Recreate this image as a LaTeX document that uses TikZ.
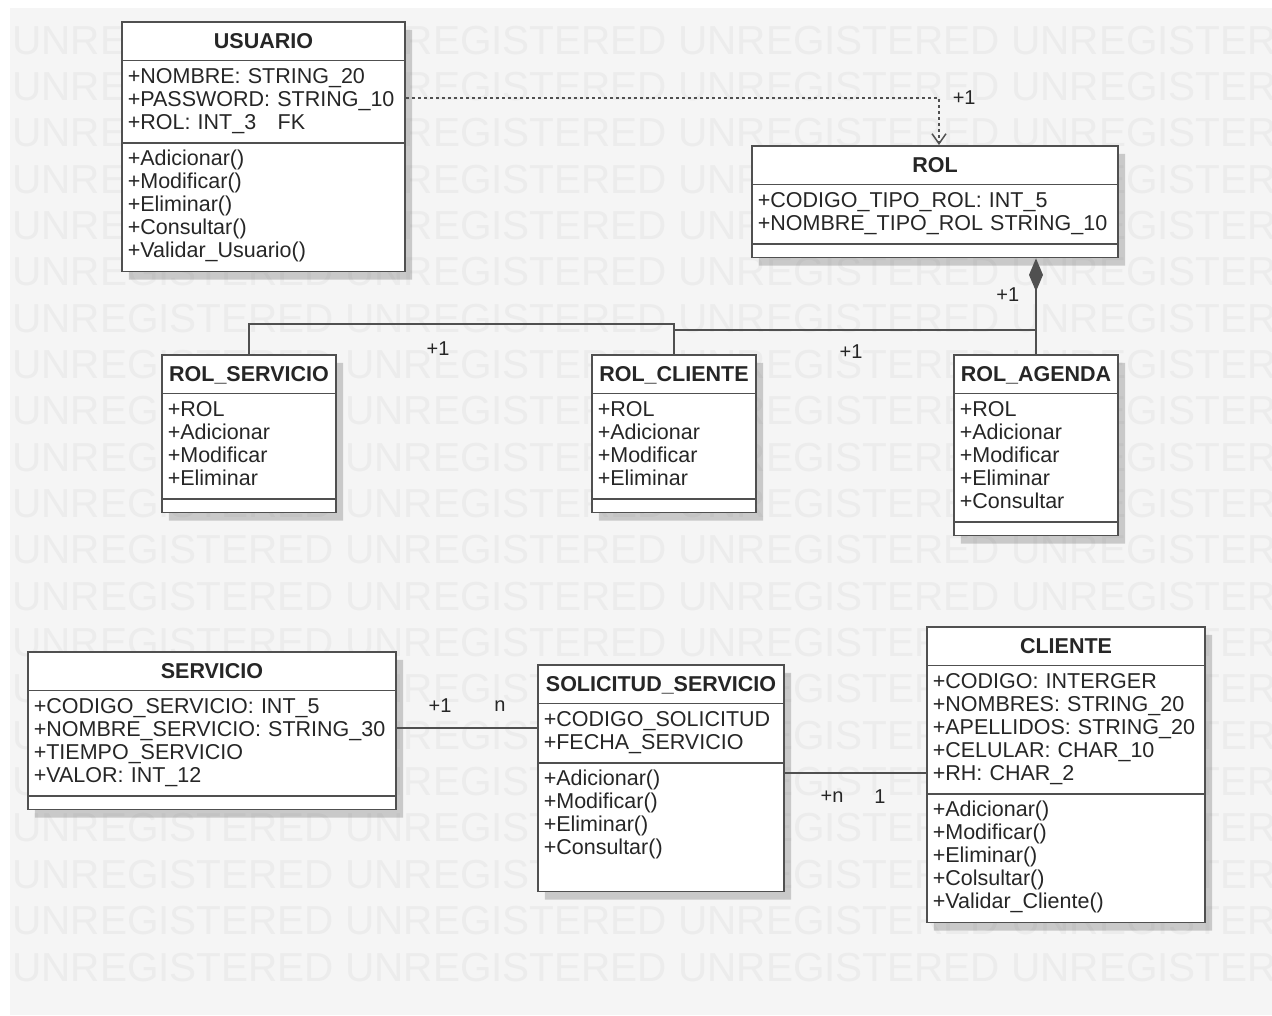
\documentclass[tikz,border=0pt]{standalone}
\usepackage{fontspec}
\setmainfont{Liberation Sans}
\usetikzlibrary{shapes.multipart,shadows,arrows.meta}

\definecolor{fondo}{RGB}{245,245,245}
\definecolor{marca}{RGB}{236,236,236}
\definecolor{borde}{RGB}{80,80,80}

\newcommand{\filas}[1]{\strut#1\strut}
\newcommand{\titulo}[1]{\rule[-5pt]{0pt}{25pt}\makebox[\hsize][c]{\textbf{#1}}}

\tikzset{every picture/.style={line width=0.75pt},
  clase/.style={rectangle split, rectangle split parts=3, anchor=north west,
    draw=borde, line width=1.6pt, fill=white, align=left,
    inner xsep=6pt, inner ysep=6pt, text=black!85,
    font=\fontsize{21.5}{23}\selectfont,
    drop shadow={shadow xshift=7pt, shadow yshift=-8pt, fill=black!60, opacity=0.3}},
  enlace/.style={draw=borde, line width=1.5pt},
  mult/.style={inner sep=0pt, text=black!85, font=\fontsize{20}{22}\selectfont},
  marcaagua/.style={inner sep=0pt, anchor=base west, text=marca,
    font=\fontsize{40.5}{44}\selectfont}}

\begin{document}
\begin{tikzpicture}[x=1pt,y=-1pt]
    \useasboundingbox (0,0) rectangle (1272,1015);
    \fill[white] (0,0) rectangle (1272,1015);
    \fill[fondo] (10,8) rectangle (1272,1015);
    \begin{scope}
        \clip (10,8) rectangle (1272,1015);
        \foreach \k in {0,...,20}
            \node[marcaagua] (wm\k) at (12,54+46.35*\k) {UNREGISTERED UNREGISTERED UNREGISTERED UNREGISTERED};
    \end{scope}

    \node[clase, text width=271.4pt] (usuario) at (121,21)
        {\titulo{USUARIO}
         \nodepart{two}\filas{+NOMBRE: STRING\_20\\+PASSWORD: STRING\_10\\+ROL: INT\_3\ \ \ FK}
         \nodepart{three}\filas{+Adicionar()\\+Modificar()\\+Eliminar()\\+Consultar()\\+Validar\_Usuario()}};
    \node[clase, text width=354.4pt] (rol) at (751,145)
        {\titulo{ROL}
         \nodepart{two}\filas{+CODIGO\_TIPO\_ROL: INT\_5\\+NOMBRE\_TIPO\_ROL STRING\_10}
         \nodepart{three}};
    \node[clase, text width=162.4pt] (rolservicio) at (161,354)
        {\titulo{ROL\_SERVICIO}
         \nodepart{two}\filas{+ROL\\+Adicionar\\+Modificar\\+Eliminar}
         \nodepart{three}};
    \node[clase, text width=152.4pt] (rolcliente) at (591,354)
        {\titulo{ROL\_CLIENTE}
         \nodepart{two}\filas{+ROL\\+Adicionar\\+Modificar\\+Eliminar}
         \nodepart{three}};
    \node[clase, text width=152.4pt] (rolagenda) at (953,354)
        {\titulo{ROL\_AGENDA}
         \nodepart{two}\filas{+ROL\\+Adicionar\\+Modificar\\+Eliminar\\+Consultar}
         \nodepart{three}};
    \node[clase, text width=356.4pt] (servicio) at (27,651)
        {\titulo{SERVICIO}
         \nodepart{two}\filas{+CODIGO\_SERVICIO: INT\_5\\+NOMBRE\_SERVICIO: STRING\_30\\+TIEMPO\_SERVICIO\\+VALOR: INT\_12}
         \nodepart{three}};
    \node[clase, text width=234.4pt] (solicitud) at (537,664)
        {\titulo{SOLICITUD\_SERVICIO}
         \nodepart{two}\filas{+CODIGO\_SOLICITUD\\+FECHA\_SERVICIO}
         \nodepart{three}\filas{+Adicionar()\\+Modificar()\\+Eliminar()\\+Consultar()\\}};
    \node[clase, text width=266.4pt] (cliente) at (926,626)
        {\titulo{CLIENTE}
         \nodepart{two}\filas{+CODIGO: INTERGER\\+NOMBRES: STRING\_20\\+APELLIDOS: STRING\_20\\+CELULAR: CHAR\_10\\+RH: CHAR\_2}
         \nodepart{three}\filas{+Adicionar()\\+Modificar()\\+Eliminar()\\+Colsultar()\\+Validar\_Cliente()}};

    \draw[enlace, dash pattern=on 3pt off 3pt, -{Straight Barb[length=10pt,width=14pt]}]
        ([yshift=-77pt]usuario.north east) -| ([xshift=4pt]rol.north)
        node[mult, pos=0.5, anchor=west, xshift=13pt] {+1};
    \draw[enlace, {Diamond[length=33pt,width=14pt]}-] (rol.south -| rolagenda.north) -- (rolagenda.north)
        node[mult, pos=0.38, anchor=east, xshift=-16pt] {+1};
    \draw[enlace] (rolservicio.north) -- ++(0,-30) -| (rolcliente.north);
    \coordinate (union) at ([yshift=24pt]rolcliente.north);
    \draw[enlace] (union) -- (union -| rolagenda.north);
    \node[mult] (m1) at (438,349) {+1};
    \node[mult] (m2) at (851,352) {+1};

    \draw[enlace] ([yshift=-77pt]servicio.north east) -- ([yshift=-64pt]solicitud.north west);
    \node[mult] (m3) at (440,706) {+1};
    \node[mult] (m4) at (500,706) {n};
    \draw[enlace] ([yshift=-109pt]solicitud.north east) -- ([yshift=-147pt]cliente.north west);
    \node[mult] (m5) at (832,797) {+n};
    \node[mult] (m6) at (880,797) {1};
\end{tikzpicture}
\end{document}
